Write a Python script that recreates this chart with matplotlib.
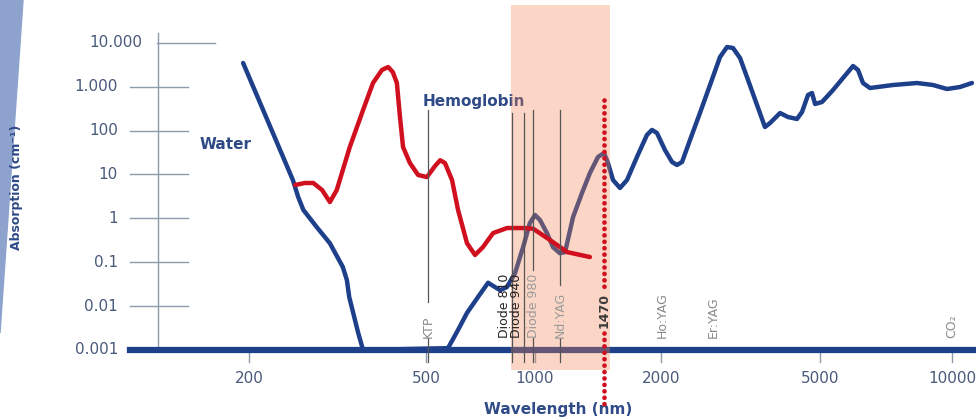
import numpy as np
import matplotlib.pyplot as plt
from matplotlib.patches import Polygon, Rectangle

# Absorption curves
water_nm = [194, 251, 258, 265, 284, 304, 325, 332, 336, 343, 352, 361,
            575, 613, 649, 696, 742, 775, 801, 837, 881, 927, 968, 1000, 1028,
            1068, 1104, 1147, 1180, 1233, 1295, 1353, 1414, 1462, 1494, 1536,
            1596, 1659, 1752, 1851, 1903, 1956, 2046, 2131, 2193, 2258, 2364,
            2503, 2653, 2810, 2926, 3029, 3154, 3303, 3478, 3641, 3749, 3972,
            4157, 4379, 4508, 4667, 4775, 4860, 5053, 5355, 5642, 5948, 6105,
            6266, 6501, 7337, 8322, 9052, 9740, 10428, 11105]
water_abs = [3450, 7.45, 3.06, 1.55, 0.63, 0.27, 0.078, 0.039, 0.0161, 0.007,
             0.00244, 0.001,
             0.0011, 0.00286, 0.007, 0.0161, 0.034, 0.0272, 0.023, 0.0272,
             0.0568, 0.22, 0.78, 1.19, 0.91, 0.46, 0.22, 0.16, 0.17, 1.07, 3.77,
             10.8, 24.9, 30.7, 18.2, 7.45, 4.9, 7.45, 24.9, 79, 103, 87.7, 36,
             19.2, 16.4, 19.2, 60.8, 250, 1088, 4720, 7980, 7570, 4480, 1413,
             381, 120, 148, 250, 203, 183, 264, 644, 715, 402, 446, 837, 1570,
             2946, 2390, 1208, 929, 1088, 1208, 1088, 882, 979, 1208]

hb_nm = [254, 267, 279, 292, 304, 315, 337, 361, 380, 398, 411, 421, 430, 437,
         444, 460, 480, 503, 529, 547, 564, 590, 613, 649, 683, 718, 766, 837,
         927, 988, 1086, 1193, 1353]
hb_abs = [5.74, 6.37, 6.37, 4.41, 2.35, 4.41, 42, 293, 1208, 2390, 2795, 2150,
          1208, 203, 42, 18.2, 9.7, 8.7, 15.4, 21, 18.2, 7.45, 1.55, 0.27, 0.146,
          0.22, 0.46, 0.60, 0.60, 0.58, 0.32, 0.17, 0.131]

# laser lines (positions as drawn on the axis)
laser_names = ['KTP', 'Diode 810', 'Diode 940', 'Diode 980', 'Nd:YAG', '1470',
               'Ho:YAG', 'Er:YAG', 'CO₂']
laser_nm = [506, 864, 933, 988, 1147, 1462, 2012, 2699, 10000]

# highlighted band
band_nm = [859, 1511]

x_ticks = [200, 500, 1000, 2000, 5000, 10000]
y_ticks = [0.001, 0.01, 0.1, 1, 10, 100, 1000, 10000]
y_labels = ['0.001', '0.01', '0.1', '1', '10', '100', '1.000', '10.000']

navy = '#1e3f8a'
red = '#d0101e'
grey_txt = '#4a5a7a'
axis_col = '#8c9cac'

# the printed wavelength axis is not quite logarithmic -> piecewise log scale
knot_log = np.log10([50, 200, 500, 1000, 2000, 5000, 10000, 20000])
knot_pos = np.array([-18.7, 249, 426, 535, 661, 820, 952, 1084])


def fwd(x):
    x = np.clip(np.asarray(x, dtype=float), 1e-9, None)
    return np.interp(np.log10(x), knot_log, knot_pos)


def inv(p):
    return 10 ** np.interp(np.asarray(p, dtype=float), knot_pos, knot_log)


fig = plt.figure(figsize=(9.76, 4.2), dpi=100)
ax = fig.add_axes([0, 0, 1, 1])
ax.set_yscale('log')
ax.set_xscale('function', functions=(fwd, inv))
ax.set_xlim(inv(0), inv(976))
ax.set_ylim(10 ** -4.595, 10 ** 4.973)
ax.axis('off')

# left decorative band
fig.patches.append(Polygon([(0, 1), (0.0236, 1), (0, 0.207)], closed=True,
                           transform=fig.transFigure, color='#8da3cd', zorder=0))

# y axis with tick bars
ax.plot([125, 125], [10 ** 4.221, 0.001], color=axis_col, lw=1, zorder=1)
for v, lab in zip(y_ticks, y_labels):
    if v == 10000:
        ax.plot([124, 168], [v, v], color=axis_col, lw=1, zorder=1)
        ax.text(115, v, lab, ha='right', va='center', fontsize=11, color=grey_txt)
    else:
        ax.plot([108, 146], [v, v], color=axis_col, lw=1, zorder=1)
        ax.text(101.5, v, lab, ha='right', va='center', fontsize=11, color=grey_txt)

# x ticks
for t in x_ticks:
    ax.plot([t, t], [8.5e-4, 5.3e-4], color=axis_col, lw=1, zorder=1)
    ax.text(t, 2.3e-4, str(t), ha='center', va='center', fontsize=11, color=grey_txt)

# curves
ax.plot(water_nm, water_abs, color=navy, lw=3.2, solid_joinstyle='round',
        solid_capstyle='round', zorder=3)
ax.plot([108, 11350], [0.001, 0.001], color=navy, lw=4.5, zorder=3)

# shaded band on top of the water curve
ax.add_patch(Rectangle((band_nm[0], 3.5e-4), band_nm[1] - band_nm[0], 72300 - 3.5e-4,
                       facecolor='#f58552', alpha=0.33, edgecolor='none', zorder=4))

ax.plot(hb_nm, hb_abs, color=red, lw=3.2, solid_joinstyle='round',
        solid_capstyle='round', zorder=5)

ax.text(155, 49, 'Water', fontsize=11, fontweight='bold', color='#2e4a87',
        va='center', ha='left')
ax.text(492, 470, 'Hemoglobin', fontsize=11, fontweight='bold', color='#2e4a87',
        va='center', ha='left')

# laser lines and labels
line_col = '#555555'
txt_bottom = 0.0019
top = 300
bot = 5.3e-4

# KTP
x = laser_nm[0]
ax.plot([x, x], [top, 0.0124], color=line_col, lw=0.9, zorder=6)
ax.plot([x, x], [txt_bottom, bot], color=line_col, lw=0.9, zorder=6)
ax.text(x, txt_bottom, laser_names[0], rotation=90, ha='center', va='bottom',
        fontsize=9, color='#8a8a8a', zorder=6)

# Diode 810 / 940: line runs past the label
for i in (1, 2):
    x = laser_nm[i]
    ax.plot([x, x], [250, bot], color=line_col, lw=0.9, zorder=6)
    ax.text(x * 0.995, txt_bottom, laser_names[i], rotation=90, ha='right',
            va='bottom', fontsize=9, color='#222222', zorder=6)

# Diode 980 and Nd:YAG: label breaks the line
for i, stop in ((3, 0.066), (4, 0.030)):
    x = laser_nm[i]
    ax.plot([x, x], [top, stop], color=line_col, lw=0.9, zorder=6)
    ax.plot([x, x], [txt_bottom, bot], color=line_col, lw=0.9, zorder=6)
    ax.text(x, txt_bottom, laser_names[i], rotation=90, ha='center', va='bottom',
            fontsize=9, color='#9a9a9a', zorder=6)

# 1470 dotted line
x = laser_nm[5]
dots = dict(color=red, lw=3.4, linestyle=(0, (0.01, 1.35)), dash_capstyle='round',
            zorder=7)
ax.plot([x, x], [495, 0.027], **dots)
ax.plot([x, x], [0.0024, 4.3e-5], **dots)
ax.text(x, 0.0032, laser_names[5], rotation=90, ha='center', va='bottom',
        fontsize=9, fontweight='bold', color='#3a3a3a', zorder=7)

# text-only lasers
for i in (6, 7, 8):
    ax.text(laser_nm[i], txt_bottom, laser_names[i], rotation=90, ha='center',
            va='bottom', fontsize=9, color='#8a8a8a', zorder=6)

# axis titles
ax.text(1135, 10 ** (4 - 367.3 / 43.9), 'Wavelength (nm)', ha='center', va='center',
        fontsize=11, fontweight='bold', color='#2e4a87')
fig.text(17 / 976, 1 - 187 / 420, 'Absorption (cm⁻¹)', rotation=90, ha='center',
         va='center', fontsize=9, fontweight='bold', color='#2e4a87')

fig.savefig('out.png', dpi=100)
